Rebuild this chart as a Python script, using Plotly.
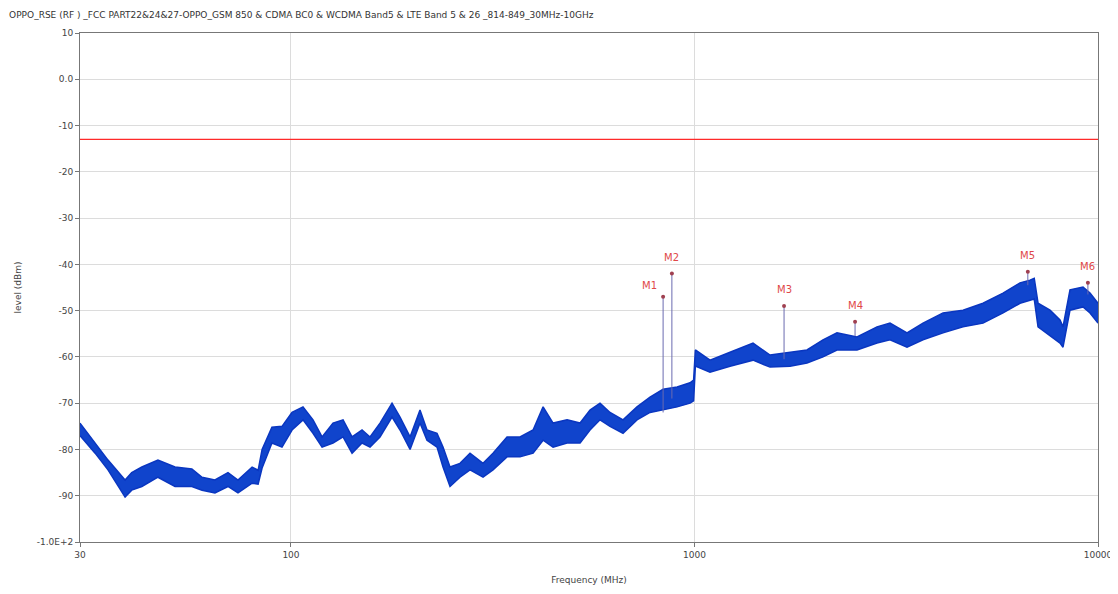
import plotly.graph_objects as go
import math

# ---- data ----
freq_mhz = [30, 32.7, 35.2, 38.8, 40.3, 42.7, 46.8, 51.6, 56.8, 60.2, 64.8, 69.8, 73.9,
            80.1, 82.9, 84.8, 89.7, 95.0, 100.6, 107.1, 113.4, 119.4, 127.1, 134.6,
            141.7, 150.0, 157.0, 166.2, 178.0, 186.3, 197.3, 208.8, 217.3, 230.1,
            238.1, 247.8, 262.3, 277.8, 299.2, 316.7, 343.1, 369.5, 398.1, 421.5,
            446.2, 483.3, 520.5, 550.9, 583.3, 617.5, 665.1, 720.3, 775.9, 835.9,
            905.4, 974.8, 995, 1005, 1092.6, 1224.7, 1396.5, 1538.7, 1724.5, 1900.2,
            2082.1, 2254.9, 2527.9, 2833.7, 3051.7, 3362.6, 3684.0, 4130.0, 4628.8,
            5188, 5817, 6408, 6784, 6950, 7102, 7605, 8051, 8190, 8523, 9180, 9555, 10000]

level_upper = [-74.3, -78.6, -82.3, -86.6, -85.0, -83.8, -82.3, -83.8, -84.2, -86.0, -86.6,
               -85.0, -86.6, -83.8, -84.5, -80.0, -75.2, -75.0, -72.0, -70.8, -73.6, -77.3,
               -74.3, -73.6, -77.3, -75.8, -77.3, -74.3, -70.0, -73.0, -77.3, -71.5, -75.8,
               -76.5, -79.5, -83.8, -83.0, -80.8, -83.0, -80.8, -77.3, -77.3, -75.8, -70.8,
               -74.3, -73.6, -74.3, -71.5, -70.0, -72.0, -73.6, -70.8, -68.7, -67.0, -66.5,
               -65.6, -65.0, -58.5, -60.7, -59.0, -57.0, -59.6, -59.0, -58.5, -56.3, -54.8,
               -55.7, -53.5, -52.7, -54.8, -52.7, -50.5, -49.9, -48.4, -46.2, -44.0, -43.4,
               -43.0, -48.4, -49.9, -52.0, -53.5, -45.5, -44.9, -46.2, -48.4]

level_lower = [-77.0, -80.8, -84.4, -90.3, -88.8, -88.0, -86.0, -88.0, -88.0, -88.8, -89.4,
               -88.0, -89.4, -87.3, -87.5, -84.0, -78.6, -79.5, -75.8, -73.6, -76.5, -79.5,
               -78.6, -77.3, -80.8, -78.6, -79.5, -77.3, -73.0, -75.8, -80.0, -74.3, -78.0,
               -79.5, -83.8, -88.0, -86.0, -84.4, -86.0, -84.4, -81.6, -81.6, -80.8, -78.0,
               -79.5, -78.6, -78.6, -75.8, -73.6, -75.0, -76.5, -73.6, -72.0, -71.5, -70.8,
               -70.0, -69.5, -62.0, -63.3, -62.0, -60.7, -62.2, -62.0, -61.3, -60.0, -58.5,
               -58.5, -57.0, -56.3, -57.9, -56.3, -54.8, -53.5, -52.7, -50.5, -48.4, -47.7,
               -47.5, -53.5, -55.5, -57.0, -57.9, -49.9, -49.2, -50.5, -52.7]

marker_names = ["M1", "M2", "M3", "M4", "M5", "M6"]
marker_freq = [836, 879, 1667, 2500, 6700, 9440]
marker_level = [-47.0, -42.0, -49.0, -52.4, -41.6, -44.0]
marker_base = [-72.0, -69.0, -60.5, -55.5, -44.5, -46.5]

limit_level = -13.0

y_tick_vals = [10, 0, -10, -20, -30, -40, -50, -60, -70, -80, -90, -100]
y_tick_text = ["10", "0.0", "-10", "-20", "-30", "-40", "-50", "-60", "-70", "-80", "-90", "-1.0E+2"]
x_tick_vals = [30, 100, 1000, 10000]
x_tick_text = ["30", "100", "1000", "10000"]

title_text = ("OPPO_RSE (RF ) _FCC PART22&24&27-OPPO_GSM 850 & CDMA BC0 & WCDMA Band5 & "
              "LTE Band 5 & 26 _814-849_30MHz-10GHz")

fig = go.Figure()

# limit line
fig.add_trace(go.Scatter(x=[x_tick_vals[0], x_tick_vals[-1]], y=[limit_level, limit_level],
                         mode="lines", line=dict(color="#ff2a2a", width=1.3),
                         hoverinfo="skip", showlegend=False))

# spectrum band (lower then upper filled)
fig.add_trace(go.Scatter(x=freq_mhz, y=level_lower, mode="lines",
                         line=dict(color="#0a36c0", width=1.5), showlegend=False))
fig.add_trace(go.Scatter(x=freq_mhz, y=level_upper, mode="lines", fill="tonexty",
                         fillcolor="#1044cc", line=dict(color="#0a36c0", width=1.5),
                         showlegend=False))

# marker spikes
for f, top, base in zip(marker_freq, marker_level, marker_base):
    fig.add_trace(go.Scatter(x=[f, f], y=[base, top], mode="lines",
                             line=dict(color="#6a6ab0", width=1), showlegend=False,
                             hoverinfo="skip"))

fig.add_trace(go.Scatter(x=marker_freq, y=marker_level, mode="markers",
                         marker=dict(color="#a04050", size=4), showlegend=False))

for name, f, lv in zip(marker_names, marker_freq, marker_level):
    fig.add_annotation(x=math.log10(f), y=lv, text=name, showarrow=False,
                       xanchor="right" if name == "M1" else "center",
                       yanchor="bottom", yshift=9 if name != "M1" else 4,
                       xshift=-4 if name == "M1" else 0,
                       font=dict(color="#e04848", size=10, family="DejaVu Sans"))

fig.update_layout(
    width=1110, height=586,
    margin=dict(l=72, r=20, t=25, b=52, autoexpand=False),
    paper_bgcolor="white", plot_bgcolor="white",
    font=dict(family="DejaVu Sans", size=9, color="#444"),
    title=dict(text=title_text, x=0.001, xanchor="left", xref="container",
               y=1 - 7 / 586, yanchor="middle", yref="container",
               font=dict(size=9, color="#333"), automargin=False),
    xaxis=dict(type="log", range=[math.log10(30), 4], tickvals=x_tick_vals,
               ticktext=x_tick_text, showgrid=True, gridcolor="#dcdcdc",
               showline=True, linecolor="#777", mirror=True, ticks="outside",
               ticklen=4, tickcolor="#777", zeroline=False, automargin=False,
               title=dict(text="Frequency (MHz)", font=dict(size=9), standoff=17)),
    yaxis=dict(range=[-100, 10], tickvals=y_tick_vals, ticktext=y_tick_text,
               showgrid=True, gridcolor="#dcdcdc", showline=True, linecolor="#777",
               mirror=True, ticks="outside", ticklen=4, tickcolor="#777",
               zeroline=False, automargin=False,
               title=dict(text="level (dBm)", font=dict(size=9), standoff=13)),
)

fig.write_html("out.html")
